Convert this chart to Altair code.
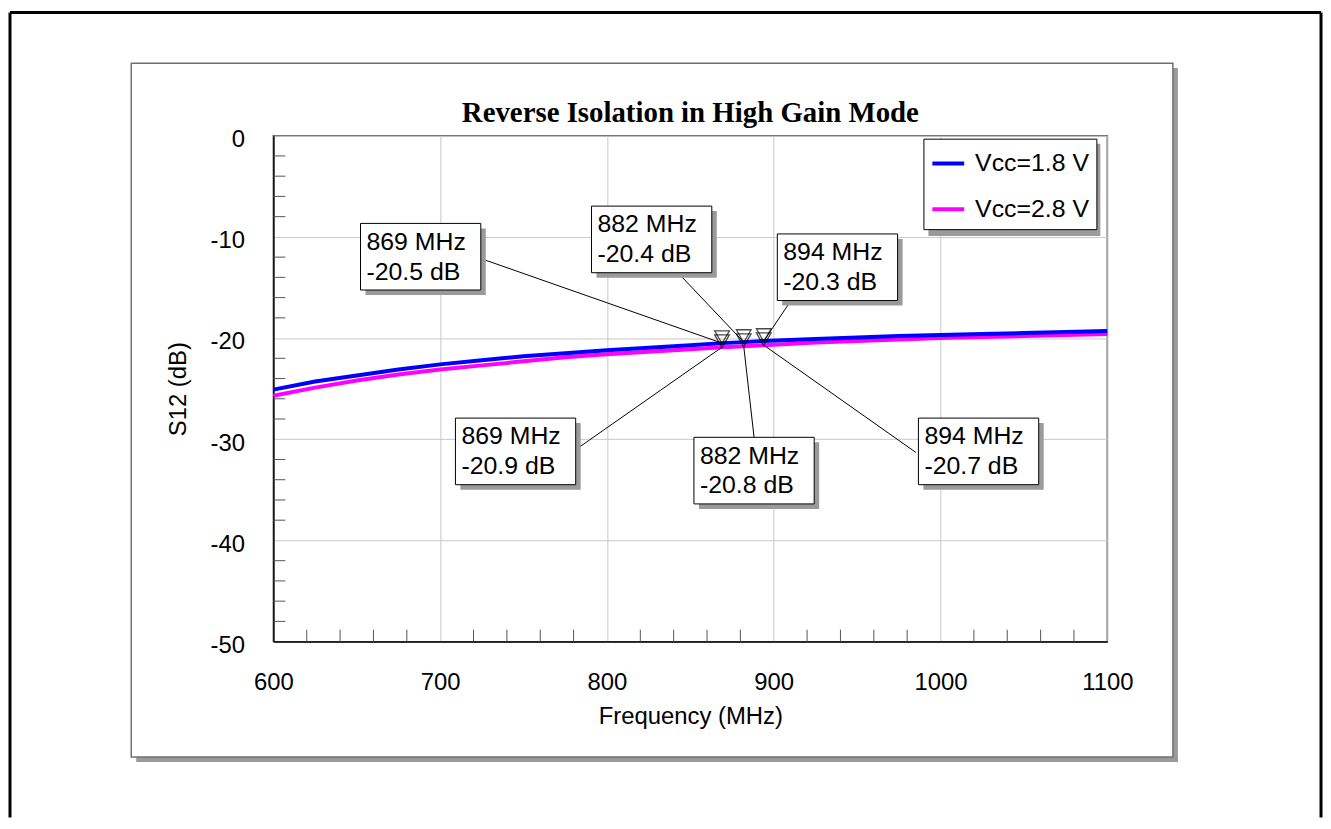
import altair as alt
import pandas as pd

# ---- data ----
freq = [600, 625, 650, 675, 700, 725, 750, 775, 800, 825, 850, 869, 882, 894,
        925, 950, 975, 1000, 1025, 1050, 1075, 1100]
s12_18 = [-25.1, -24.3, -23.7, -23.1, -22.6, -22.2, -21.8, -21.5, -21.2, -20.95, -20.7,
          -20.5, -20.4, -20.3, -20.1, -19.95, -19.8, -19.7, -19.6, -19.5, -19.4, -19.3]
s12_28 = [-25.7, -24.9, -24.2, -23.6, -23.1, -22.7, -22.3, -21.9, -21.6, -21.35, -21.1,
          -20.9, -20.8, -20.7, -20.45, -20.3, -20.15, -20.0, -19.9, -19.8, -19.7, -19.6]
series = ["Vcc=1.8 V", "Vcc=2.8 V"]
colors = ["#0000FF", "#FF00FF"]

mk_freq = [869, 882, 894]
mk_18 = [-20.5, -20.4, -20.3]
mk_28 = [-20.9, -20.8, -20.7]

# annotation box centres and leader attach points (data coords)
ann18_x = [688.3, 826.8, 938.2]
ann18_y = [-11.96, -10.25, -13.0]
att18_x = [723.7, 842.3, 910.7]
att18_y = [-12.1, -13.5, -16.2]
ann28_x = [745.2, 888.2, 1022.8]
ann28_y = [-31.2, -33.1, -31.2]
att28_x = [781.5, 888.2, 985.2]
att28_y = [-31.0, -29.8, -31.3]

x_major = [600, 700, 800, 900, 1000, 1100]
y_major = [-50, -40, -30, -20, -10, 0]
x_minor = [f for f in range(620, 1100, 20) if f % 100 != 0]
y_minor = [v for v in range(-48, 0, 2) if v % 10 != 0]

title_text = "Reverse Isolation in High Gain Mode"

# ---- tables ----
df18 = pd.DataFrame({"f": freq, "s": s12_18, "series": series[0]})
df28 = pd.DataFrame({"f": freq, "s": s12_28, "series": series[1]})

rows = []
for i, f in enumerate(mk_freq):
    rows.append(dict(f=f, s=mk_18[i], bx=ann18_x[i], by=ann18_y[i], ax=att18_x[i], ay=att18_y[i],
                     txt=f"{f} MHz\n{mk_18[i]} dB"))
    rows.append(dict(f=f, s=mk_28[i], bx=ann28_x[i], by=ann28_y[i], ax=att28_x[i], ay=att28_y[i],
                     txt=f"{f} MHz\n{mk_28[i]} dB"))
ann = pd.DataFrame(rows)

one = pd.DataFrame({"a": [0]})
W, H = 839, 509
FONT = "Liberation Sans"

xs = alt.Scale(domain=[600, 1100], nice=False)
ys = alt.Scale(domain=[-50, 0], nice=False)
cs = alt.Scale(domain=series, range=colors)

xax = alt.Axis(values=x_major, grid=True, ticks=False, title="Frequency (MHz)",
               labelExpr="'' + datum.value", labelFlush=False,
               labelPadding=29, titlePadding=10)
yax = alt.Axis(values=y_major, grid=True, ticks=False, title="S12 (dB)",
               labelExpr="'' + datum.value", labelFlush=False,
               labelPadding=29, titlePadding=20, labelOffset=4)

# ---- decorations ----
TOP = -124
outer = [
    alt.Chart(one).mark_rule(color="black", strokeWidth=3).encode(
        x=alt.value(-265), y=alt.value(TOP), y2=alt.value(686)),
    alt.Chart(one).mark_rule(color="black", strokeWidth=3).encode(
        x=alt.value(1054), y=alt.value(TOP), y2=alt.value(686)),
    alt.Chart(one).mark_rule(color="black", strokeWidth=3).encode(
        x=alt.value(-265), x2=alt.value(1054), y=alt.value(TOP)),
]
panel_shadow = [
    alt.Chart(one).mark_rect(color="#9a9a9a").encode(
        x=alt.value(905), x2=alt.value(910), y=alt.value(-68), y2=alt.value(630)),
    alt.Chart(one).mark_rect(color="#9a9a9a").encode(
        x=alt.value(-138), x2=alt.value(910), y=alt.value(625), y2=alt.value(630)),
]
panel = alt.Chart(one).mark_rect(fillOpacity=0, stroke="#707070", strokeWidth=1.5).encode(
    x=alt.value(-143), x2=alt.value(905), y=alt.value(-73), y2=alt.value(625))
legend_shadow = alt.Chart(one).mark_rect(color="#9a9a9a").encode(
    x=alt.value(659), x2=alt.value(659 + 173), y=alt.value(8), y2=alt.value(8 + 93))
title = alt.Chart(one).mark_text(font="Liberation Serif", fontSize=29, fontWeight="bold",
                                 color="black", align="center", baseline="alphabetic").encode(
    x=alt.value(W / 2), y=alt.value(-14), text=alt.value(title_text))

# minor ticks
yminor = alt.Chart(pd.DataFrame({"v": y_minor})).mark_rule(color="#555", strokeWidth=1).encode(
    y=alt.Y("v:Q", scale=ys, axis=yax), x=alt.value(0), x2=alt.value(12))
xminor = alt.Chart(pd.DataFrame({"v": x_minor})).mark_rule(color="#555", strokeWidth=1).encode(
    x=alt.X("v:Q", scale=xs, axis=xax), y=alt.value(H), y2=alt.value(H - 12))

# ---- curves ----
line28 = alt.Chart(df28).mark_line(strokeWidth=4).encode(
    x=alt.X("f:Q", scale=xs, axis=xax), y=alt.Y("s:Q", scale=ys, axis=yax),
    color=alt.Color("series:N", scale=cs, title=None))
line18 = alt.Chart(df18).mark_line(strokeWidth=4).encode(
    x=alt.X("f:Q", scale=xs, axis=xax), y=alt.Y("s:Q", scale=ys, axis=yax),
    color=alt.Color("series:N", scale=cs, title=None))

markers = alt.Chart(ann).mark_point(shape="triangle-down", filled=False, color="black",
                                     size=220, strokeWidth=1.3, yOffset=-6).encode(
    x=alt.X("f:Q", scale=xs), y=alt.Y("s:Q", scale=ys))

leaders = alt.Chart(ann).mark_rule(color="black", strokeWidth=1).encode(
    x=alt.X("f:Q", scale=xs), y=alt.Y("s:Q", scale=ys), x2="ax:Q", y2="ay:Q")

box_shadow = alt.Chart(ann).mark_rect(color="#9a9a9a", xOffset=-55.5, x2Offset=65.5,
                                      yOffset=-28.5, y2Offset=38.5).encode(
    x=alt.X("bx:Q", scale=xs), x2="bx:Q", y=alt.Y("by:Q", scale=ys), y2="by:Q")
box = alt.Chart(ann).mark_rect(fill="white", stroke="black", strokeWidth=1, xOffset=-60.5,
                               x2Offset=60.5, yOffset=-33.5, y2Offset=33.5).encode(
    x=alt.X("bx:Q", scale=xs), x2="bx:Q", y=alt.Y("by:Q", scale=ys), y2="by:Q")
box_text = alt.Chart(ann).mark_text(align="left", baseline="middle", dx=-54.5, dy=-15,
                                    lineBreak="\n", lineHeight=30, fontSize=25, font=FONT,
                                    color="black").encode(
    x=alt.X("bx:Q", scale=xs), y=alt.Y("by:Q", scale=ys), text="txt:N")

chart = alt.layer(
    *outer, *panel_shadow, panel, legend_shadow, title,
    yminor, xminor, line28, line18, markers, leaders, box_shadow, box, box_text
).properties(
    width=W, height=H, padding=0, background="white",
).configure_view(
    stroke="#555", strokeWidth=1.5
).configure_axis(
    labelFont=FONT, labelFontSize=24, labelColor="black",
    titleFont=FONT, titleFontSize=24, titleFontWeight="normal", titleColor="black",
    domainColor="black", domainWidth=1.5, gridColor="#c8c8c8", gridWidth=1,
).configure_legend(
    orient="none", legendX=654, legendY=3, strokeColor="black", fillColor="white",
    padding=7, rowPadding=15, symbolType="stroke", symbolSize=1024, symbolStrokeWidth=4,
    labelFont=FONT, labelFontSize=25, labelColor="black", labelOffset=9,
)

chart.save("out.html", embed_options={"renderer": "svg", "actions": False})
